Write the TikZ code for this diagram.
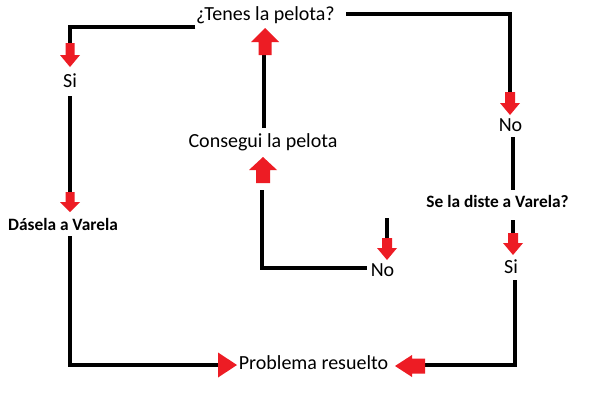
\documentclass[tikz,border=0pt]{standalone}
\usepackage{fontspec}
\setmainfont{Carlito}
\usetikzlibrary{calc}
\definecolor{arrowred}{RGB}{237,28,36}
\tikzset{
  lbl/.style={inner sep=0pt, anchor=base, font=\fontsize{15pt}{18pt}\selectfont},
  blbl/.style={inner sep=0pt, anchor=base, font=\fontsize{13pt}{16pt}\selectfont\bfseries},
  conn/.style={line width=2.6pt, black},
  redarrow/.style={fill=arrowred}
}
% name, x, y, rotation, length, head length, head width, shaft width
\newcommand\blockarrow[8]{%
  \coordinate (#1) at (#2,#3);
  \fill[redarrow, shift={(#2,#3)}, rotate=#4]
    (0,{-#8/2}) -- ({#5-#6},{-#8/2}) -- ({#5-#6},{-#7/2}) -- (#5,0)
    -- ({#5-#6},{#7/2}) -- ({#5-#6},{#8/2}) -- (0,{#8/2}) -- cycle;
}
\begin{document}
\begin{tikzpicture}[x=0.75pt,y=-0.75pt]
\fill[white] (0,0) rectangle (599,418);
\useasboundingbox (0,0) rectangle (599,418);

% text nodes
\node[lbl]  (tenes)    at (265.5,20.5) {¿Tenes la pelota?};
\node[lbl]  (si1)      at (70,87)      {Si};
\node[blbl] (dasela)   at (63,230)     {Dásela a Varela};
\node[lbl]  (consegui) at (263,147)    {Consegui la pelota};
\node[lbl]  (no2)      at (382.5,276)  {No};
\node[lbl]  (no1)      at (510.5,131)  {No};
\node[blbl] (sela)     at (497.5,207)  {Se la diste a Varela?};
\node[lbl]  (si2)      at (511,273)    {Si};
\node[lbl]  (probl)    at (313.5,369)  {Problema resuelto};

% arrow anchor coordinates (tails)
\coordinate (a1) at (70,43);
\coordinate (a2) at (70,192);
\coordinate (a3) at (218,365);
\coordinate (a4) at (425,365);
\coordinate (a5) at (513,233);
\coordinate (a6) at (510,92);
\coordinate (a7) at (264,55);
\coordinate (a8) at (263,183);
\coordinate (a9) at (387,238);
\coordinate (free) at (387,218);

% connectors
\draw[conn] ($(tenes.base west)+(-0.5,6.5)$) -| (a1);
\draw[conn] ($(tenes.base east)+(11,-6.5)$) -| (a6);
\draw[conn] ($(si1.base)+(0,9)$) -- (a2);
\draw[conn] ($(dasela.base)+(7,6)$) |- (a3);
\draw[conn] (a4) -| ($(si2.base)+(4,7)$);
\draw[conn] ($(no1.base)+(2.5,6)$) -- ($(sela.base)+(15.5,-17)$);
\draw[conn] ($(sela.base)+(15.5,13)$) -- (a5);
\draw[conn] ($(consegui.base)+(1,-19)$) -- (a7);
\draw[conn] ($(no2.base west)+(-4,-8)$) -| ($(a8)+(-1,7)$);
\draw[conn] (free) -- (a9);

% red block arrows
\blockarrow{b1}{70}{43}{-90}{24}{12}{20}{9}
\blockarrow{b2}{70}{192}{-90}{20}{10}{20}{9}
\blockarrow{b3}{218}{365}{0}{19}{19}{25}{0}
\blockarrow{b4}{425}{366}{180}{30}{17}{22}{15}
\blockarrow{b5}{513}{233}{-90}{22}{12}{20}{10}
\blockarrow{b6}{510}{92}{-90}{23}{12}{20}{10}
\blockarrow{b7}{265}{55}{90}{27}{14}{28}{13}
\blockarrow{b8}{263}{183}{90}{26}{13}{28}{14}
\blockarrow{b9}{387}{238}{-90}{22}{12}{20}{10}
\end{tikzpicture}
\end{document}
